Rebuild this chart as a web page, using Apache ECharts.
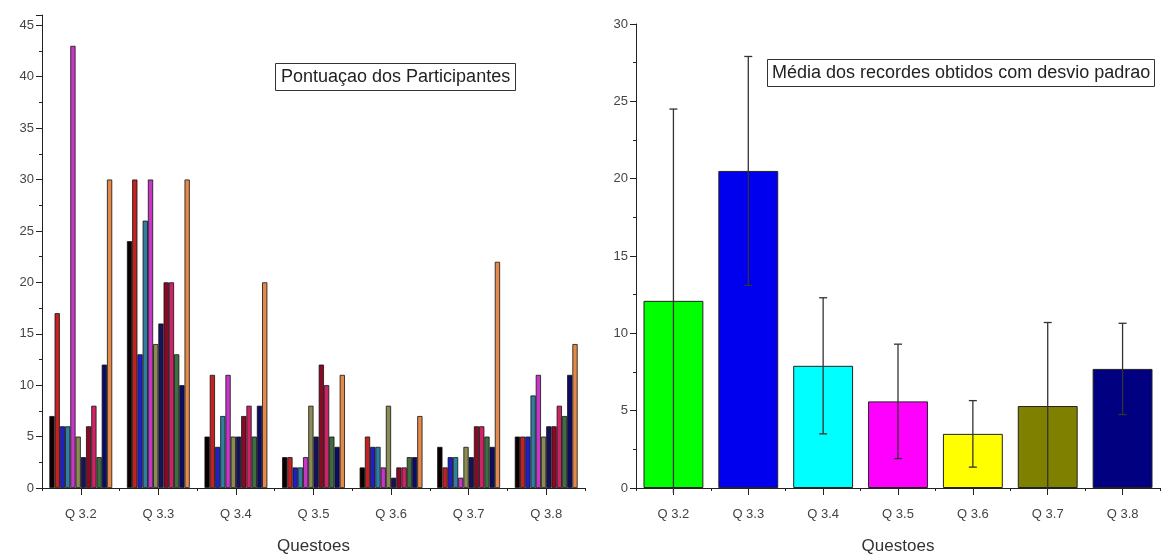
<!DOCTYPE html>
<html>
<head>
<meta charset="utf-8">
<script src="https://cdn.jsdelivr.net/npm/echarts@6/dist/echarts.min.js"></script>
<style>
  html, body { margin: 0; padding: 0; background: #fff; overflow: hidden; }
  #chart { width: 1170px; height: 560px; }
</style>
</head>
<body>
<div id="chart"></div>
<script>
var questions = ['Q 3.2', 'Q 3.3', 'Q 3.4', 'Q 3.5', 'Q 3.6', 'Q 3.7', 'Q 3.8'];

// scores of each participant, per question
var p1  = [7, 24, 5, 3, 2, 4, 5];
var p2  = [17, 30, 11, 3, 5, 2, 5];
var p3  = [6, 13, 4, 2, 4, 3, 5];
var p4  = [6, 26, 7, 2, 4, 3, 9];
var p5  = [43, 30, 11, 3, 2, 1, 11];
var p6  = [5, 14, 5, 8, 8, 4, 5];
var p7  = [3, 16, 5, 5, 1, 3, 6];
var p8  = [6, 20, 7, 12, 2, 6, 6];
var p9  = [8, 20, 8, 10, 2, 6, 8];
var p10 = [3, 13, 5, 5, 3, 5, 7];
var p11 = [12, 10, 8, 4, 3, 4, 11];
var p12 = [30, 30, 20, 11, 7, 22, 14];
var participants = [p1, p2, p3, p4, p5, p6, p7, p8, p9, p10, p11, p12];
var participantColors = ['#0a0000', '#c42222', '#1f1fc8', '#2f7fa0', '#c736c7', '#8c8a55',
                         '#16125c', '#8a0a25', '#d02266', '#3f6f40', '#0c0c66', '#e5894a'];

// mean and standard deviation
var means = [12.1, 20.5, 7.9, 5.6, 3.5, 5.3, 7.7];
var stdDev = [12.4, 7.4, 4.4, 3.7, 2.15, 5.4, 2.95];
var meanColors = ['#00ff00', '#0000ee', '#00ffff', '#ff00ff', '#ffff00', '#808000', '#000080'];

var font = 'Liberation Sans';
var chart = echarts.init(document.getElementById('chart'));

function valueAxis(gridIndex, max) {
    return {
        type: 'value', gridIndex: gridIndex, min: 0, max: max, interval: 5,
        axisLine: { show: true, lineStyle: { color: '#222', width: 1 } },
        axisTick: { show: true, inside: false, length: 6, lineStyle: { color: '#222' } },
        minorTick: { show: true, splitNumber: 2, length: 3, lineStyle: { color: '#222' } },
        splitLine: { show: false },
        axisLabel: { color: '#444', fontSize: 13, fontFamily: font, margin: 8, showMaxLabel: max % 5 === 0 }
    };
}
function catAxis(gridIndex) {
    return {
        type: 'category', gridIndex: gridIndex, data: questions,
        axisLine: { show: true, lineStyle: { color: '#222', width: 1 } },
        axisTick: { show: true, alignWithLabel: true, length: 7, lineStyle: { color: '#222' } },
        axisLabel: { color: '#444', fontSize: 13, fontFamily: font, margin: 20 },
        name: 'Questoes', nameLocation: 'middle', nameGap: 50,
        nameTextStyle: { color: '#333', fontSize: 17, fontFamily: font }
    };
}
function boundaryTicks(gridIndex) {
    return {
        type: 'category', gridIndex: gridIndex, data: questions, position: 'bottom',
        axisLine: { show: false },
        axisTick: { show: true, alignWithLabel: false, length: 3, lineStyle: { color: '#222' } },
        axisLabel: { show: false }
    };
}

var series = participants.map(function (vals, i) {
    return {
        name: 'P' + (i + 1), type: 'bar', xAxisIndex: 0, yAxisIndex: 0,
        data: vals, barGap: '0%', barCategoryGap: '19%',
        itemStyle: { color: participantColors[i], borderColor: '#111', borderWidth: 0.8 }
    };
});

series.push({
    name: 'Média', type: 'bar', xAxisIndex: 2, yAxisIndex: 1,
    data: means.map(function (v, i) {
        return { value: v, itemStyle: { color: meanColors[i] } };
    }),
    barCategoryGap: '20%',
    itemStyle: { borderColor: '#222', borderWidth: 1 }
});

series.push({
    name: 'Desvio', type: 'custom', xAxisIndex: 2, yAxisIndex: 1, z: 10,
    data: means.map(function (m, i) { return [i, m - stdDev[i], m + stdDev[i]]; }),
    clip: false,
    renderItem: function (params, api) {
        var x = api.value(0);
        var lo = api.coord([x, api.value(1)]);
        var hi = api.coord([x, api.value(2)]);
        var zero = api.coord([x, 0]);
        var style = { stroke: '#333', lineWidth: 1.3 };
        var kids = [
            { type: 'line', shape: { x1: hi[0], y1: hi[1], x2: lo[0], y2: lo[1] }, style: style },
            { type: 'line', shape: { x1: hi[0] - 4, y1: hi[1], x2: hi[0] + 4, y2: hi[1] }, style: style }
        ];
        if (lo[1] <= zero[1]) {
            kids.push({ type: 'line', shape: { x1: lo[0] - 4, y1: lo[1], x2: lo[0] + 4, y2: lo[1] }, style: style });
        }
        return { type: 'group', children: kids };
    }
});

chart.setOption({
    backgroundColor: '#fff',
    animation: false,
    title: [
        {
            text: 'Pontuaçao dos Participantes', left: 275, top: 63,
            borderColor: '#333', borderWidth: 1, padding: [5, 6],
            textStyle: { color: '#222', fontSize: 18, fontWeight: 'normal', fontFamily: font }
        },
        {
            text: 'Média dos recordes obtidos com desvio padrao', left: 767, top: 59,
            borderColor: '#333', borderWidth: 1, padding: [5, 5],
            textStyle: { color: '#222', fontSize: 18, fontWeight: 'normal', fontFamily: font }
        }
    ],
    grid: [
        { left: 42, right: 585, top: 15, bottom: 68, containLabel: false },
        { left: 636, right: 10, top: 24, bottom: 68, containLabel: false }
    ],
    xAxis: [catAxis(0), boundaryTicks(0), catAxis(1), boundaryTicks(1)],
    yAxis: [valueAxis(0, 46), valueAxis(1, 30)],
    series: series
});
</script>
</body>
</html>
